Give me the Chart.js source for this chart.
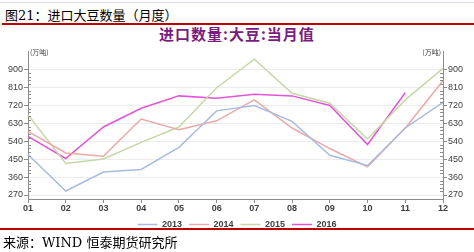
<!DOCTYPE html>
<html>
<head>
<meta charset="utf-8">
<script src="https://cdn.jsdelivr.net/npm/chart.js@4/dist/chart.umd.min.js"></script>
<style>
    body { margin: 0; width: 474px; height: 252px; background: #fff; position: relative; overflow: hidden; }
    .topLine { position: absolute; left: 0; top: 2px; width: 474px; height: 1px; background: #d3dae8; }
    .header { position: absolute; left: 5px; top: 5px; font: 13px "DejaVu Serif", "Noto Sans CJK SC", serif; color: #000; white-space: nowrap; }
    .redLine { position: absolute; left: 2px; width: 472px; height: 2px; background: #c00000; }
    .chartTitle { position: absolute; left: 0; width: 474px; top: 23px; text-align: center; font: bold 15px "Noto Sans CJK SC", sans-serif; color: #7a1c7e; letter-spacing: 1px; }
    .source { position: absolute; left: 3px; top: 232px; font: 13px "DejaVu Serif", "Noto Sans CJK SC", serif; color: #000; white-space: nowrap; }
    #wrap { position: absolute; left: 0; top: 45px; width: 474px; height: 194px; }
</style>
</head>
<body>
<div class="topLine"></div>
<div class="header">图21：进口大豆数量（月度）</div>
<div class="redLine" style="top:23px"></div>
<div class="chartTitle">进口数量:大豆:当月值</div>
<div id="wrap"><canvas id="chartSoja"></canvas></div>
<div class="redLine" style="top:228px;left:0;width:474px"></div>
<div class="source">来源：WIND 恒泰期货研究所</div>

<script>
// Datos (万吨)
const meses = ['01', '02', '03', '04', '05', '06', '07', '08', '09', '10', '11', '12'];
const serie2013 = [473, 290, 385, 398, 509, 692, 719, 639, 469, 418, 606, 734];
const serie2014 = [589, 481, 464, 651, 597, 642, 747, 606, 503, 411, 606, 843];
const serie2015 = [672, 428, 451, 534, 611, 808, 951, 780, 730, 551, 747, 905];
const serie2016 = [564, 453, 611, 705, 767, 755, 775, 767, 719, 523, 783, null];
const ticksY = [270, 360, 450, 540, 630, 720, 810, 900];

const colorEje = '#8c8c8c';
const colorTexto = '#404040';

// Marcas menores y unidades en los ejes
const pluginEjes = {
    id: 'pluginEjes',
    afterDraw(chart) {
        const ctx = chart.ctx;
        const area = chart.chartArea;
        const y = chart.scales.y;
        ctx.save();
        ctx.strokeStyle = colorEje;
        ctx.lineWidth = 1;
        for (let i = 0; i < ticksY.length - 1; i++) {
            for (let k = 1; k < 5; k++) {
                const py = Math.round(y.getPixelForValue(ticksY[i] + k * 18)) + 0.5;
                ctx.beginPath();
                ctx.moveTo(area.left, py);
                ctx.lineTo(area.left + 3, py);
                ctx.moveTo(area.right, py);
                ctx.lineTo(area.right - 3, py);
                ctx.stroke();
            }
        }
        ctx.fillStyle = colorTexto;
        ctx.font = '7px "Noto Sans CJK SC", sans-serif';
        ctx.textBaseline = 'middle';
        ctx.textAlign = 'left';
        ctx.fillText('(万吨)', area.left + 2, area.top + 1);
        ctx.textAlign = 'right';
        ctx.fillText('(万吨)', area.right - 2, area.top + 1);
        ctx.restore();
    }
};

function ejeY(posicion) {
    return {
        position: posicion,
        min: 250,
        max: 990,
        afterBuildTicks: function(scale) {
            scale.ticks = ticksY.map(v => ({ value: v }));
        },
        afterFit: function(scale) {
            scale.width = posicion === 'left' ? 28 : 31;
        },
        border: { color: colorEje, width: 1 },
        grid: {
            drawOnChartArea: posicion === 'left',
            color: '#ececec',
            tickColor: colorEje,
            tickLength: 4
        },
        ticks: {
            color: colorTexto,
            font: { family: 'Liberation Sans', size: 9 },
            padding: 1
        }
    };
}

function serie(label, data, color) {
    return {
        label: label,
        data: data,
        borderColor: color,
        backgroundColor: color,
        borderWidth: 1.5,
        pointRadius: 0,
        tension: 0,
        spanGaps: false
    };
}

document.addEventListener('DOMContentLoaded', function() {
    const ctx = document.getElementById('chartSoja');
    new Chart(ctx, {
        type: 'line',
        data: {
            labels: meses,
            datasets: [
                serie('2013', serie2013, '#a9bbe2'),
                serie('2014', serie2014, '#e9aaa6'),
                serie('2015', serie2015, '#c6d8a6'),
                serie('2016', serie2016, '#e255d4')
            ]
        },
        options: {
            responsive: true,
            maintainAspectRatio: false,
            animation: false,
            layout: { padding: { top: 6, bottom: 0, left: 0, right: 0 } },
            plugins: {
                legend: {
                    position: 'bottom',
                    labels: {
                        usePointStyle: true,
                        pointStyle: 'line',
                        pointStyleWidth: 20,
                        color: colorTexto,
                        font: { family: 'Liberation Sans', size: 9, weight: 'bold' },
                        padding: 7
                    }
                },
                tooltip: { enabled: false }
            },
            scales: {
                x: {
                    offset: false,
                    afterFit: function(scale) {
                        scale.height = 14;
                    },
                    border: { color: colorEje, width: 1 },
                    grid: { drawOnChartArea: false, tickColor: colorEje, tickLength: 4 },
                    ticks: {
                        color: colorTexto,
                        font: { family: 'Liberation Sans', size: 9, weight: 'bold' },
                        padding: 0,
                        maxRotation: 0,
                        autoSkip: false
                    }
                },
                y: ejeY('left'),
                y2: ejeY('right')
            }
        },
        plugins: [pluginEjes]
    });
});
</script>
</body>
</html>
